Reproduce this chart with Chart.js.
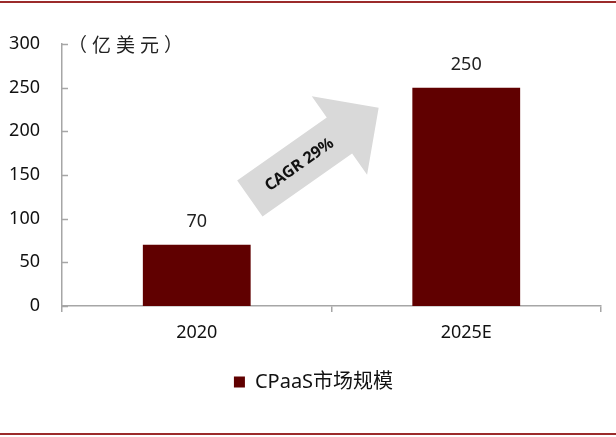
<!DOCTYPE html>
<html>
<head>
<meta charset="utf-8">
<script src="https://cdn.jsdelivr.net/npm/chart.js@4"></script>
<style>
  html, body { margin: 0; padding: 0; background: #fff; }
  #wrap { width: 616px; height: 437px; }
</style>
</head>
<body>
<div id="wrap"><canvas id="c" width="616" height="437"></canvas></div>
<script>
const categories = ["2020", "2025E"];
const marketSize = [70, 250];
const seriesName = "CPaaS市场规模";
const unitLabel = "（亿美元）";
const cagrLabel = "CAGR 29%";
const yTicks = [0, 50, 100, 150, 200, 250, 300];

const barColor = "#600000";
const axisColor = "#a6a6a6";
const font = "'Noto Sans', 'Noto Sans CJK SC', sans-serif";

// extra drawing: frame lines, unit, value labels, inward y ticks, the CAGR arrow
const decor = {
  id: "decor",
  afterLayout(chart) {
    // legend sits centred under the plot area, not the canvas
    const lg = chart.legend;
    if (lg) {
      const shift = 13;
      lg.left += shift; lg.right += shift;
      if (lg.adjustHitBoxes) lg.adjustHitBoxes();
    }
  },
  afterDraw(chart) {
    const ctx = chart.ctx;
    const area = chart.chartArea;
    const x = chart.scales.x, y = chart.scales.y;
    ctx.save();

    // red lines top and bottom
    ctx.strokeStyle = "#9b2b2b";
    ctx.lineWidth = 2;
    ctx.beginPath();
    ctx.moveTo(0, 2); ctx.lineTo(chart.width, 2);
    ctx.moveTo(0, chart.height - 3); ctx.lineTo(chart.width, chart.height - 3);
    ctx.stroke();

    // inward ticks on y axis
    ctx.strokeStyle = axisColor;
    ctx.lineWidth = 1.5;
    ctx.beginPath();
    yTicks.forEach(v => {
      const py = Math.round(y.getPixelForValue(v)) + 0.5;
      ctx.moveTo(area.left, py); ctx.lineTo(area.left + 6, py);
    });
    ctx.stroke();

    // unit
    ctx.fillStyle = "#222";
    ctx.font = "19px " + font;
    ctx.letterSpacing = "5px";
    ctx.textBaseline = "middle";
    ctx.textAlign = "left";
    ctx.fillText(unitLabel, area.left + 6, area.top + 3);
    ctx.letterSpacing = "0px";

    // value labels
    ctx.font = "18px " + font;
    ctx.textAlign = "center";
    const meta = chart.getDatasetMeta(0);
    meta.data.forEach((bar, i) => {
      ctx.fillText(String(marketSize[i]), bar.x, bar.y - 23);
    });

    // arrow from right of first bar towards second bar
    const x0 = x.getPixelForValue(0), x1 = x.getPixelForValue(1);
    const tx = x0 + (x1 - x0) * 0.197, ty = y.getPixelForValue(123);
    const hx = x0 + (x1 - x0) * 0.675, hy = y.getPixelForValue(227);
    const ang = Math.atan2(hy - ty, hx - tx);
    const len = Math.hypot(hx - tx, hy - ty);
    const sw = 22, hw = 48, hl = 48;
    ctx.translate(tx, ty);
    ctx.rotate(ang);
    ctx.fillStyle = "#d9d9d9";
    ctx.beginPath();
    ctx.moveTo(0, -sw);
    ctx.lineTo(len - hl, -sw);
    ctx.lineTo(len - hl, -hw);
    ctx.lineTo(len, 0);
    ctx.lineTo(len - hl, hw);
    ctx.lineTo(len - hl, sw);
    ctx.lineTo(0, sw);
    ctx.closePath();
    ctx.fill();
    ctx.fillStyle = "#111";
    ctx.font = "bold 16px " + font;
    ctx.textAlign = "center";
    ctx.fillText(cagrLabel, 60, 1);
    ctx.restore();
  }
};

new Chart(document.getElementById("c"), {
  type: "bar",
  data: {
    labels: categories,
    datasets: [{
      label: seriesName,
      data: marketSize,
      backgroundColor: barColor,
      barPercentage: 0.8,
      categoryPercentage: 0.5
    }]
  },
  options: {
    responsive: false,
    animation: false,
    layout: { padding: { top: 44, right: 15, bottom: 35, left: 0 } },
    plugins: {
      tooltip: { enabled: false },
      legend: {
        position: "bottom",
        labels: {
          boxWidth: 11, boxHeight: 11, padding: 10,
          color: "#111",
          font: { size: 20, family: font }
        }
      }
    },
    scales: {
      x: {
        offset: true,
        grid: { offset: true, drawOnChartArea: false, drawTicks: true, tickLength: 6, color: axisColor, lineWidth: 1.5 },
        border: { display: true, color: axisColor, width: 1.5 },
        ticks: { color: "#111", padding: 10, font: { size: 18, family: font } },
        afterFit(s) { s.height = 56; }
      },
      y: {
        min: 0, max: 300,
        ticks: { stepSize: 50, color: "#111", padding: 22, font: { size: 18, family: font } },
        grid: { display: false, drawTicks: false },
        border: { display: true, color: axisColor, width: 1.5 },
        afterFit(s) { s.width = 62; }
      }
    }
  },
  plugins: [decor]
});
</script>
</body>
</html>
